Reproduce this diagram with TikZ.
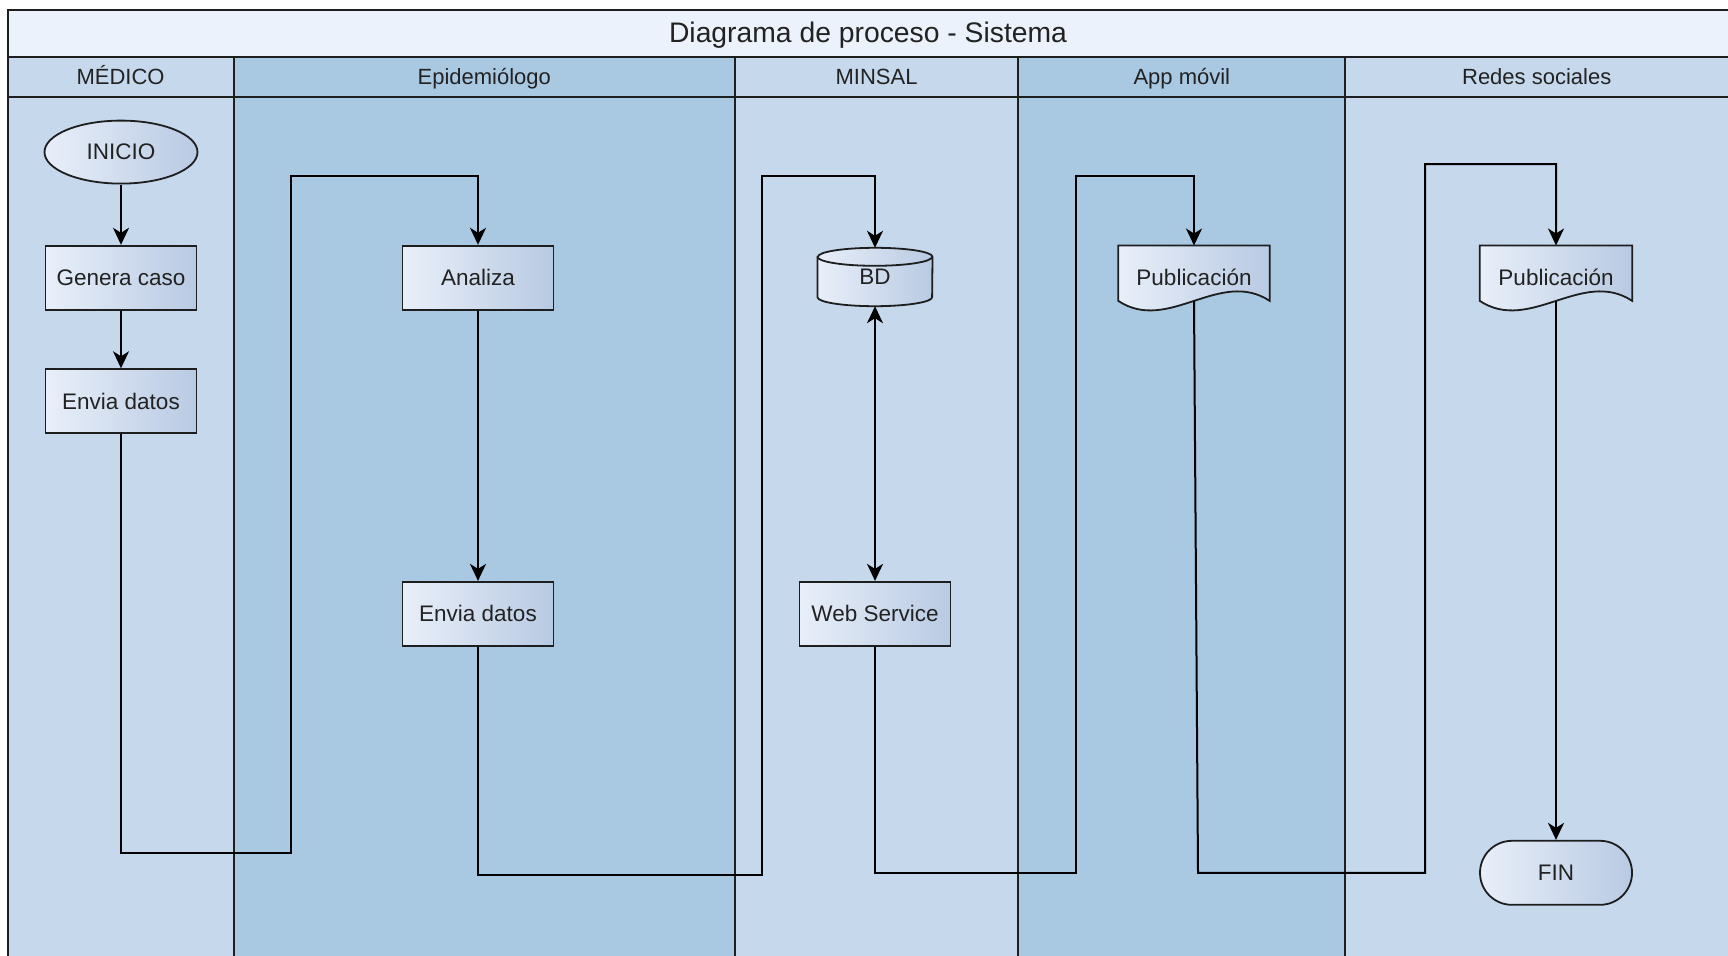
\documentclass[tikz,border=0pt]{standalone}
\usepackage{fontspec}
\setmainfont{Liberation Sans}
\usetikzlibrary{shapes.geometric,arrows.meta,calc}

\definecolor{bandtitle}{HTML}{EBF2FC}
\definecolor{lanelight}{HTML}{C5D8EC}
\definecolor{lanedark}{HTML}{A9C8E2}
\definecolor{shadelight}{HTML}{E9EFF9}
\definecolor{shadedark}{HTML}{B8CAE3}
\definecolor{ink}{HTML}{1E1E1E}
\definecolor{txt}{HTML}{222222}

\pgfdeclarelayer{lanes}
\pgfdeclarelayer{shapes}
\pgfsetlayers{lanes,shapes,main}

\begin{document}
\begin{tikzpicture}[x=1pt,y=-1pt,
  every node/.style={text=txt, font=\fontsize{22.5}{27}\selectfont},
  frame/.style={draw=ink, line width=1.8pt},
  shaded/.style={draw=ink, line width=1.8pt, left color=shadelight, right color=shadedark},
  procbox/.style={shaded, rectangle, minimum width=151pt, minimum height=64pt, inner sep=0pt},
  startend/.style={shaded, ellipse, minimum width=153pt, minimum height=63pt, inner sep=0pt},
  endcap/.style={shaded, rectangle, rounded corners=31.9pt, minimum width=152pt, minimum height=64pt, inner sep=0pt},
  holder/.style={rectangle, inner sep=0pt},
  lanehead/.style={font=\fontsize{22}{26}\selectfont, anchor=base, inner sep=0pt},
  titletext/.style={font=\fontsize{28.3}{33}\selectfont, anchor=base, inner sep=0pt},
  tip/.tip={Stealth[length=17pt,width=16pt,inset=5pt]},
  flow/.style={draw=black, line width=2pt, -tip},
  flowboth/.style={draw=black, line width=2pt, tip-tip},
]
\useasboundingbox (0,0) rectangle (1728,955);
\clip (0,0) rectangle (1728,955);

% swimlanes
\begin{pgfonlayer}{lanes}
  \fill[bandtitle] (7.7,9.9) rectangle (1740,57.3);
  \fill[lanelight] (7.7,57.3) rectangle (234,960);
  \fill[lanedark]  (234,57.3) rectangle (735,960);
  \fill[lanelight] (735,57.3) rectangle (1018,960);
  \fill[lanedark]  (1018,57.3) rectangle (1345,960);
  \fill[lanelight] (1345,57.3) rectangle (1740,960);
  \draw[frame] (7.7,960) -- (7.7,9.9) -- (1740,9.9);
  \draw[frame] (7.7,57.3) -- (1740,57.3);
  \draw[frame] (7.7,97) -- (1740,97);
  \foreach \x in {234,735,1018,1345}
    \draw[frame] (\x,57.3) -- (\x,960);
\end{pgfonlayer}

% titles
\node[titletext] (title) at (868,42.7) {Diagrama de proceso - Sistema};
\node[lanehead] (hMed) at (120.6,85) {MÉDICO};
\node[lanehead] (hEpi) at (484.3,85) {Epidemiólogo};
\node[lanehead] (hMin) at (876.6,85) {MINSAL};
\node[lanehead] (hApp) at (1181.8,85) {App móvil};
\node[lanehead] (hRed) at (1536.7,85) {Redes sociales};

% process nodes
\node[startend] (inicio) at (121,152.1) {INICIO};
\node[procbox] (genera) at (121,277.7) {Genera caso};
\node[procbox] (enviaMed) at (121,401.2) {Envia datos};
\node[procbox] (analiza) at (478,277.7) {Analiza};
\node[procbox] (enviaEpi) at (478,613.8) {Envia datos};
\node[procbox] (webserv) at (875,613.8) {Web Service};
\node[holder, minimum width=114.6pt, minimum height=58pt] (bd) at (875,277) {BD};
\node[holder, minimum width=151pt, minimum height=64pt] (pubA) at (1194,277.7) {Publicación};
\node[holder, minimum width=152pt, minimum height=64pt] (pubB) at (1556,277.7) {Publicación};
\node[endcap] (fin) at (1556,872.8) {FIN};

% database and document outlines
\begin{pgfonlayer}{shapes}
  \path[shaded] ($(bd.north west)+(0,9)$) -- ($(bd.south west)+(0,-9)$)
      arc[start angle=180,end angle=0,x radius=57.3,y radius=9]
      -- ($(bd.north east)+(0,9)$)
      arc[start angle=0,end angle=-180,x radius=57.3,y radius=9] -- cycle;
  \draw[frame] ($(bd.north west)+(0,9)$)
      arc[start angle=180,end angle=0,x radius=57.3,y radius=9];
  \foreach \d in {pubA,pubB}
    \path[shaded] (\d.north west) -- ($(\d.south west)+(0,-9)$)
      .. controls +(50,33) and +(-50,-33) .. ($(\d.south east)+(0,-9)$)
      -- (\d.north east) -- cycle;
\end{pgfonlayer}

% bends of the long connectors
\coordinate (r1a) at (291,853);
\coordinate (r1b) at (291,176.3);
\coordinate (r2a) at (761.5,875);
\coordinate (r2b) at (761.5,176.3);
\coordinate (r3a) at (1075.6,872.8);
\coordinate (r3b) at (1075.6,176.3);
\coordinate (r4a) at (1198,872.8);
\coordinate (r4b) at (1425,872.8);
\coordinate (r4c) at (1425,164.2);

% connectors
\draw[flow] (inicio) -- (genera);
\draw[flow] (genera) -- (enviaMed);
\draw[flow] (enviaMed.south) |- (r1a) -- (r1b) -| (analiza.north);
\draw[flow] (analiza) -- (enviaEpi);
\draw[flow] (enviaEpi.south) |- (r2a) -- (r2b) -| (bd.north);
\draw[flowboth] (webserv.north) -- (bd.south);
\draw[flow] (webserv.south) |- (r3a) -- (r3b) -| (pubA.north);
\draw[flow] ($(pubA.south)+(0,-9)$) -- (r4a) -- (r4b) -- (r4c) -| (pubB.north);
\draw[flow] ($(pubB.south)+(0,-9)$) -- (fin.north);
\end{tikzpicture}
\end{document}
